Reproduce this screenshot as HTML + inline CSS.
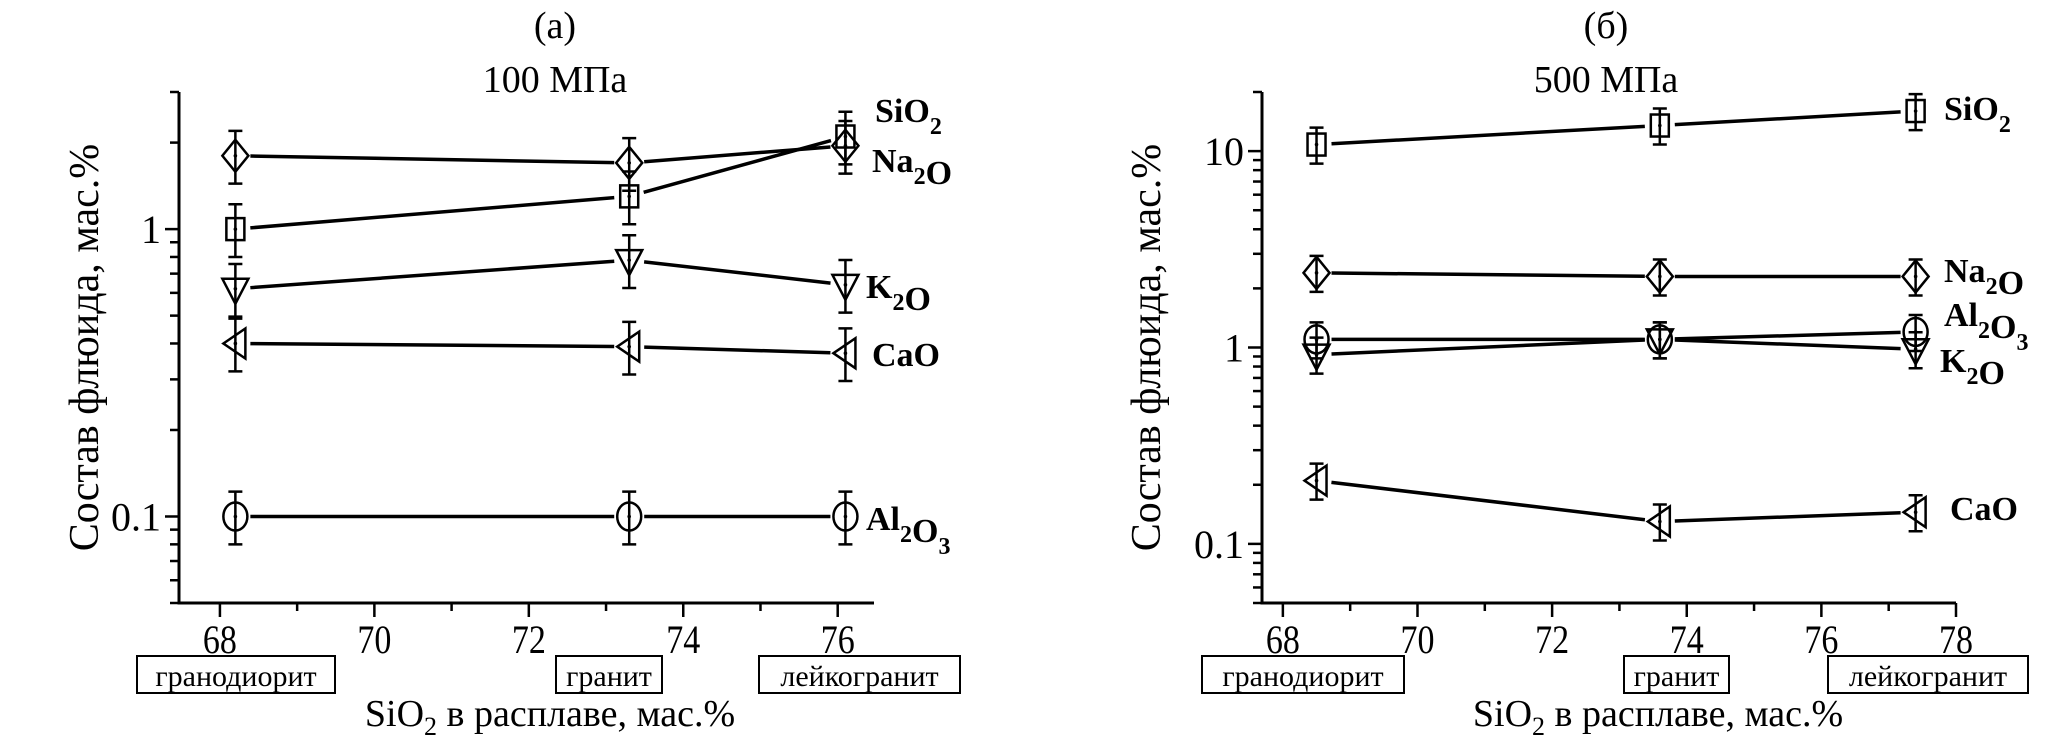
<!DOCTYPE html>
<html><head><meta charset="utf-8"><style>
body{margin:0;background:#fff;}
svg{display:block;font-family:"Liberation Serif",serif;}
</style></head><body>
<svg id="chart" width="2067" height="735" viewBox="0 0 2067 735" xmlns="http://www.w3.org/2000/svg"></svg>
<script>
const xA = [68.2, 73.3, 76.1];
const sio2A = [1.0, 1.3, 2.1];
const na2oA = [1.8, 1.7, 1.95];
const k2oA = [0.62, 0.78, 0.64];
const caoA = [0.40, 0.39, 0.37];
const al2o3A = [0.1, 0.1, 0.1];
const xB = [68.5, 73.6, 77.4];
const sio2B = [10.8, 13.5, 16];
const na2oB = [2.4, 2.3, 2.3];
const al2o3B = [1.1, 1.1, 1.2];
const k2oB = [0.92, 1.1, 0.98];
const caoB = [0.21, 0.13, 0.145];
const xTicksA = [68, 70, 72, 74, 76];
const xTicksB = [68, 70, 72, 74, 76, 78];
const yTicksA = [0.1, 1];
const yTicksB = [0.1, 1, 10];
const rockNames = ['гранодиорит', 'гранит', 'лейкогранит'];

const NS = 'http://www.w3.org/2000/svg';
const svg = document.getElementById('chart');
function mk(tag, attrs, parent, text){
  const e = document.createElementNS(NS, tag);
  for (const k in attrs) e.setAttribute(k, attrs[k]);
  if (text !== undefined) e.textContent = text;
  (parent || svg).appendChild(e);
  return e;
}

function panel(cfg){
  const g = mk('g', {});
  
  
  const X = v => cfg.x0 + (v - cfg.xmin) / (cfg.xmax - cfg.xmin) * (cfg.x1 - cfg.x0);
  const Y = v => cfg.yb - (Math.log10(v) - Math.log10(cfg.ymin)) / (Math.log10(cfg.ymax) - Math.log10(cfg.ymin)) * (cfg.yb - cfg.yt);
  const ax = mk('path', {d:`M${cfg.x0},${cfg.yt} V${cfg.yb} H${cfg.x1}`, fill:'none', stroke:'#000', 'stroke-width':3}, g);
   
  for (let v = Math.ceil(cfg.xmin); v <= cfg.xmax + 1e-9; v++) {
    const major = v % 2 === 0;
    mk('line', {x1:X(v), x2:X(v), y1:cfg.yb, y2:cfg.yb + (major ? 14 : 8), stroke:'#000', 'stroke-width':2.5}, g);
  }
  cfg.xTicks.forEach(v => {
    const t = mk('text', {x:X(v), y:cfg.yb + 50, 'font-size':40, 'text-anchor':'middle', transform:`translate(${X(v)},0) scale(0.85,1) translate(${-X(v)},0)`}, g, String(v));
     
  });
  for (let d = -2; d <= 2; d++) {
    for (let m = 1; m <= 9; m++) {
      const v = m * Math.pow(10, d);
      if (v < cfg.ymin * 0.999 || v > cfg.ymax * 1.001) continue;
      mk('line', {x1:cfg.x0, x2:cfg.x0 - (m === 1 ? 14 : 9), y1:Y(v), y2:Y(v), stroke:'#000', 'stroke-width':2.5}, g);
    }
  }
  cfg.yTicks.forEach(v => {
    const t = mk('text', {x:cfg.x0 - 18, y:Y(v) + 14, 'font-size':40, 'text-anchor':'end'}, g, String(v));
     
  });
  let t = mk('text', {x:cfg.cx, y:38, 'font-size':38, 'text-anchor':'middle'}, g, cfg.letter);
   
  t = mk('text', {x:cfg.cx, y:92, 'font-size':38, 'text-anchor':'middle'}, g, cfg.pressure);
   
  t = mk('text', {x:cfg.ytx, y:(cfg.yt + cfg.yb) / 2, 'font-size':42, 'text-anchor':'middle', transform:`rotate(-90 ${cfg.ytx} ${(cfg.yt + cfg.yb) / 2})`}, g, 'Состав флюида,  мас.%');
   
  t = mk('text', {x:cfg.xtx, y:726, 'font-size':38, 'text-anchor':'middle'}, g);
   
  mk('tspan', {}, t, 'SiO');
  mk('tspan', {dy:9, 'font-size':26}, t, '2');
  mk('tspan', {dy:-9}, t, ' в расплаве, мас.%');
  cfg.boxes.forEach((b, i) => {
    const r = mk('rect', {x:b[0], y:656, width:b[1] - b[0], height:37, fill:'#fff', stroke:'#000', 'stroke-width':2}, g);
     
    mk('text', {x:(b[0] + b[1]) / 2, y:686, 'font-size':30, 'text-anchor':'middle'}, g, rockNames[i]);
  });
  cfg.series.forEach(s => {
    const sg = mk('g', {}, g);
    
    
    const pts = cfg.xs.map((x, i) => [X(x), Y(s.vals[i])]);
    for (let i = 0; i < pts.length - 1; i++) {
      const [ax1, ay1] = pts[i], [bx, by] = pts[i + 1];
      const L = Math.hypot(bx - ax1, by - ay1), ux = (bx - ax1) / L, uy = (by - ay1) / L, gap = 15;
      mk('line', {x1:ax1 + ux * gap, y1:ay1 + uy * gap, x2:bx - ux * gap, y2:by - uy * gap, stroke:'#000', 'stroke-width':3.5}, sg);
    }
    pts.forEach(([px, py], i) => {
      const v = s.vals[i], hi = Y(v * 1.22), lo = Y(v / 1.25);
      mk('path', {d:`M${px},${hi} V${lo} M${px - 7},${hi} H${px + 7} M${px - 7},${lo} H${px + 7}`, stroke:'#000', 'stroke-width':2.5, fill:'none'}, sg);
      let m;
      const a = {fill:'#fff', 'fill-opacity':0, stroke:'#000', 'stroke-width':2.5};
      if (s.shape === 'square') m = mk('rect', Object.assign({x:px - 9, y:py - 11, width:18, height:22}, a), sg);
      else if (s.shape === 'diamond') m = mk('path', Object.assign({d:`M${px},${py - 16} L${px + 13},${py} L${px},${py + 16} L${px - 13},${py} Z`}, a), sg);
      else if (s.shape === 'down') m = mk('path', Object.assign({d:`M${px - 13},${py - 10} H${px + 13} L${px},${py + 15} Z`}, a), sg);
      else if (s.shape === 'left') m = mk('path', Object.assign({d:`M${px - 12},${py} L${px + 10},${py - 15} V${py + 15} Z`}, a), sg);
      else m = mk('ellipse', Object.assign({cx:px, cy:py, rx:12, ry:14}, a), sg);
      
      
      mk('circle', {cx:px, cy:py, r:1.8, fill:'#000'}, sg);
    });
    const lt = mk('text', {x:s.lx, y:s.ly, 'font-size':34, 'font-weight':'bold'}, g);
    
    
    s.label.forEach(p => { if (p[1]) { mk('tspan', {dy:12, 'font-size':24}, lt, p[0]); mk('tspan', {dy:-12}, lt, ''); } else mk('tspan', {}, lt, p[0]); });
  });
}

panel({name:'panel-a-100mpa', x0:179, x1:874, xmin:67.47, xmax:76.47, yt:92, yb:603, ymin:0.05, ymax:3,
  xs:xA, xTicks:xTicksA, yTicks:yTicksA, cx:555, letter:'(а)', pressure:'100  МПа', ytx:98, xtx:550,
  boxes:[[137,335],[556,662],[759,960]],
  series:[
    {key:'sio2', vals:sio2A, shape:'square', lx:875, ly:122, label:[['SiO'],['2',1]]},
    {key:'na2o', vals:na2oA, shape:'diamond', lx:872, ly:172, label:[['Na'],['2',1],['O']]},
    {key:'k2o', vals:k2oA, shape:'down', lx:866, ly:298, label:[['K'],['2',1],['O']]},
    {key:'cao', vals:caoA, shape:'left', lx:872, ly:366, label:[['CaO']]},
    {key:'al2o3', vals:al2o3A, shape:'circle', lx:866, ly:530, label:[['Al'],['2',1],['O'],['3',1]]}
  ]});
panel({name:'panel-b-500mpa', x0:1262, x1:1956, xmin:67.69, xmax:78, yt:92, yb:603, ymin:0.05, ymax:20,
  xs:xB, xTicks:xTicksB, yTicks:yTicksB, cx:1606, letter:'(б)', pressure:'500  МПа', ytx:1160, xtx:1658,
  boxes:[[1202,1404],[1624,1729],[1828,2028]],
  series:[
    {key:'sio2', vals:sio2B, shape:'square', lx:1944, ly:120, label:[['SiO'],['2',1]]},
    {key:'na2o', vals:na2oB, shape:'diamond', lx:1944, ly:282, label:[['Na'],['2',1],['O']]},
    {key:'al2o3', vals:al2o3B, shape:'circle', lx:1944, ly:326, label:[['Al'],['2',1],['O'],['3',1]]},
    {key:'k2o', vals:k2oB, shape:'down', lx:1940, ly:372, label:[['K'],['2',1],['O']]},
    {key:'cao', vals:caoB, shape:'left', lx:1950, ly:520, label:[['CaO']]}
  ]});
</script>
</body></html>
